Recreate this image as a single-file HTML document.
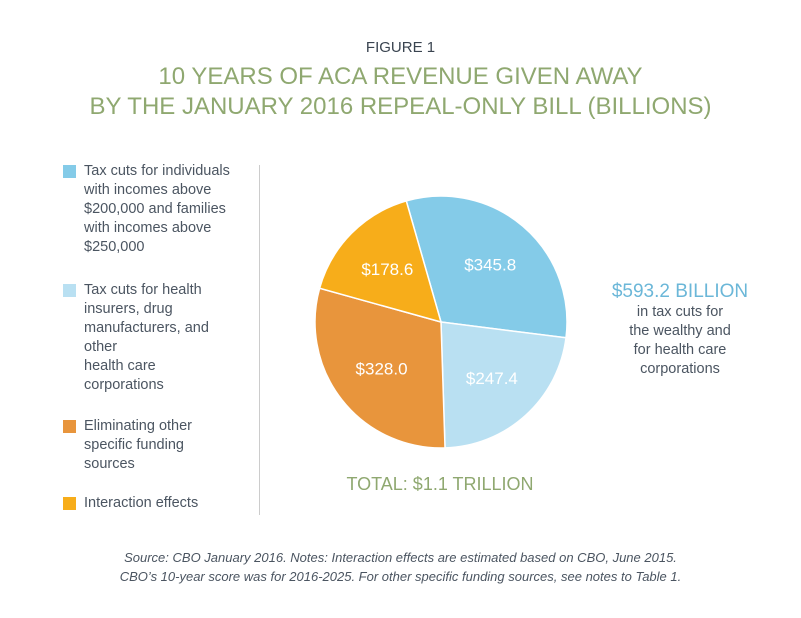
<!DOCTYPE html>
<html><head><meta charset="utf-8"><style>
body{margin:0;background:#fff;width:801px;height:618px;overflow:hidden;font-family:"Liberation Sans",sans-serif;position:relative}
.t{position:absolute;color:#4b5561}
.sw{position:absolute;left:63px;width:13px;height:13px}
.lg{position:absolute;left:84px;font-size:14.5px;line-height:19px;color:#4b5561;width:170px}
</style></head><body>
<div class="t" style="left:0;width:801px;top:39px;text-align:center;font-size:15px;color:#3a4450">FIGURE 1</div>
<div class="t" style="left:0;width:801px;top:62px;text-align:center;font-size:24px;line-height:30px;color:#8fa870">10 YEARS OF ACA REVENUE GIVEN AWAY<br>BY THE JANUARY 2016 REPEAL-ONLY BILL (BILLIONS)</div>
<div class="sw" style="top:165px;background:#84cbe8"></div>
<div class="lg" style="top:162px">Tax cuts for individuals with incomes above $200,000 and families with incomes above $250,000</div>
<div class="sw" style="top:284px;background:#b9e0f2"></div>
<div class="lg" style="top:281px;width:140px">Tax cuts for health insurers, drug manufacturers, and other<br>health care corporations</div>
<div class="sw" style="top:420px;background:#e8953c"></div>
<div class="lg" style="top:417px;width:140px">Eliminating other specific funding sources</div>
<div class="sw" style="top:497px;background:#f7ad1a"></div>
<div class="lg" style="top:494px">Interaction effects</div>
<div style="position:absolute;left:259px;top:165px;width:1px;height:350px;background:#ccc"></div>
<svg id="pie" style="position:absolute;left:0;top:0" width="801" height="618"></svg>
<div class="t" style="left:340px;width:200px;top:474px;text-align:center;font-size:18px;color:#8fa870">TOTAL: $1.1 TRILLION</div>
<div class="t" style="left:590px;width:180px;top:281px;text-align:center;font-size:19px;color:#6bb7d8">$593.2 BILLION</div>
<div class="t" style="left:590px;width:180px;top:303px;text-align:center;font-size:14.5px;line-height:19px">in tax cuts for<br>the wealthy and<br>for health care<br>corporations</div>
<div class="t" style="left:0;width:801px;top:548px;text-align:center;font-size:13px;line-height:19px;font-style:italic">Source: CBO January 2016. Notes: Interaction effects are estimated based on CBO, June 2015.<br>CBO’s 10-year score was for 2016-2025. For other specific funding sources, see notes to Table 1.</div>
<script>
const categories=["Individuals","Corporations","Other funding","Interaction"];
const values=[345.8,247.4,328.0,178.6];
const labels=["$345.8","$247.4","$328.0","$178.6"];
const colors=["#84cbe8","#b9e0f2","#e8953c","#f7ad1a"];
const svg=document.getElementById('pie');
const NS="http://www.w3.org/2000/svg";
const cx=441,cy=322,r=126,start=-16;
const total=values.reduce((a,b)=>a+b,0);
function pt(deg,rr){const a=deg*Math.PI/180;return [cx+rr*Math.sin(a),cy-rr*Math.cos(a)];}
let ang=start;
values.forEach((v,i)=>{
 const sweep=v/total*360;const a0=ang,a1=ang+sweep;ang=a1;
 const p0=pt(a0,r),p1=pt(a1,r);
 const path=document.createElementNS(NS,'path');
 path.setAttribute('d',`M${cx},${cy}L${p0[0]},${p0[1]}A${r},${r} 0 ${sweep>180?1:0} 1 ${p1[0]},${p1[1]}Z`);
 path.setAttribute('fill',colors[i]);path.setAttribute('stroke','#fff');path.setAttribute('stroke-width','1.5');
 
 
 svg.appendChild(path);
 const lp=pt((a0+a1)/2,r*0.6);
 const t=document.createElementNS(NS,'text');
 t.setAttribute('x',lp[0]);t.setAttribute('y',lp[1]+6);t.setAttribute('text-anchor','middle');
 t.setAttribute('fill','#fff');t.setAttribute('font-size','17');t.setAttribute('font-family','Liberation Sans, sans-serif');
 t.textContent=labels[i];
 
 
 svg.appendChild(t);
});
</script>
</body></html>
